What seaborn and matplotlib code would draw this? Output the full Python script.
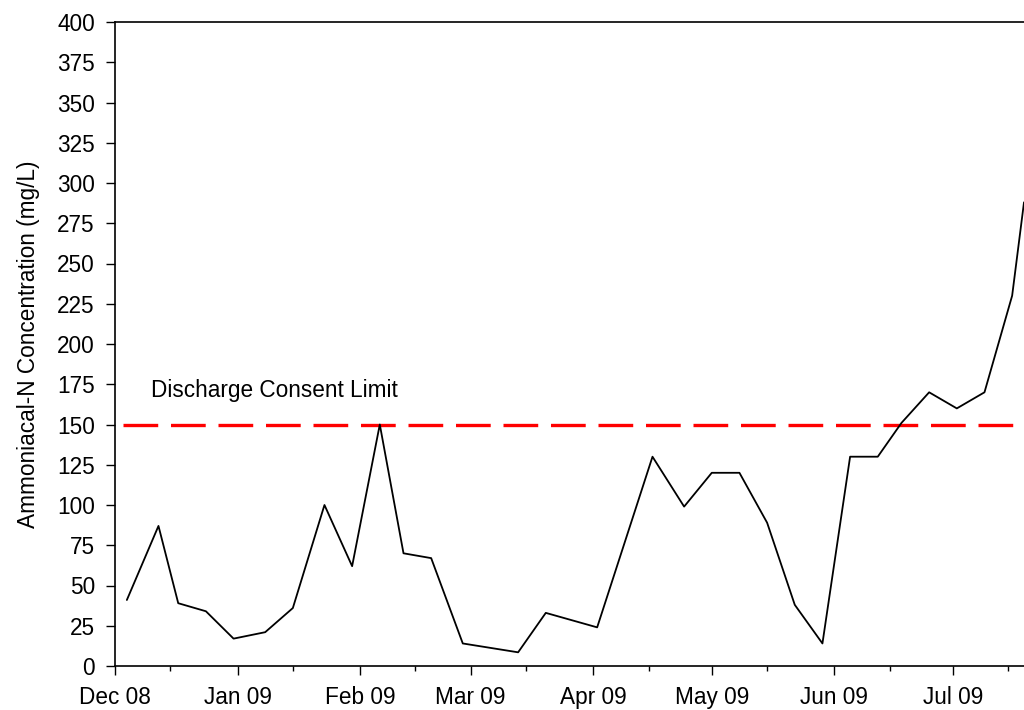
import pandas as pd
import matplotlib
matplotlib.use("Agg")
import matplotlib.pyplot as plt
import matplotlib.dates as mdates
import seaborn as sns

# ========= DATA =========
sample_dates = [
    "2008-12-04", "2008-12-12", "2008-12-17", "2008-12-24", "2008-12-31",
    "2009-01-08", "2009-01-15", "2009-01-23", "2009-01-30", "2009-02-06",
    "2009-02-12", "2009-02-19", "2009-02-27", "2009-03-13", "2009-03-20",
    "2009-04-02", "2009-04-16", "2009-04-24", "2009-05-01", "2009-05-08",
    "2009-05-15", "2009-05-22", "2009-05-29", "2009-06-05", "2009-06-12",
    "2009-06-18", "2009-06-25", "2009-07-02", "2009-07-09", "2009-07-16",
    "2009-07-19",
]
ammonia_mgL = [
    41, 87, 39, 34, 17,
    21, 36, 100, 62, 150,
    70, 67, 14, 8.5, 33,
    24, 130, 99, 120, 120,
    89, 38, 14, 130, 130,
    151, 170, 160, 170, 230,
    288,
]
consent_limit = 150
limit_label = "Discharge Consent Limit"
y_label = "Ammoniacal-N Concentration (mg/L)"

df = pd.DataFrame({"date": pd.to_datetime(sample_dates), "nh4": ammonia_mgL})
limit_df = pd.DataFrame({
    "date": pd.to_datetime(["2008-12-03", "2009-07-25"]),
    "limit": [consent_limit, consent_limit],
})

# ========= STYLE =========
sns.set_style("ticks")
plt.rcParams["font.family"] = ["Liberation Sans", "DejaVu Sans"]
plt.rcParams["lines.scale_dashes"] = False
for key in ["text.color", "axes.labelcolor", "xtick.color", "ytick.color",
            "axes.edgecolor"]:
    plt.rcParams[key] = "black"

FS = 16.3

fig = plt.figure(figsize=(10.24, 7.1), dpi=100)
ax = fig.add_axes([115 / 1024, 44 / 710, (1024 - 115) / 1024, (688 - 44) / 710])

sns.lineplot(data=limit_df, x="date", y="limit", ax=ax, color="#ff0000",
             linewidth=2.4, dashes=False)
ax.lines[-1].set_dashes((25, 9.2))
sns.lineplot(data=df, x="date", y="nh4", ax=ax, color="black", linewidth=1.3)

ax.text(pd.Timestamp("2008-12-10"), 171, limit_label, fontsize=FS,
        va="center", ha="left", color="black")

ax.set_xlim(pd.Timestamp("2008-12-01"), pd.Timestamp("2009-07-19"))
ax.set_ylim(0, 400)
ax.set_yticks(range(0, 401, 25))
ax.xaxis.set_major_locator(mdates.MonthLocator())
ax.xaxis.set_minor_locator(mdates.MonthLocator(bymonthday=15))
ax.xaxis.set_major_formatter(mdates.DateFormatter("%b %y"))

ax.set_xlabel("")
ax.set_ylabel(y_label, fontsize=FS, labelpad=12)
ax.tick_params(axis="both", which="major", direction="out", length=6.5,
               width=1.0, labelsize=FS, color="black", labelcolor="black")
ax.tick_params(axis="x", which="major", pad=8)
ax.tick_params(axis="y", which="major", pad=8)
ax.tick_params(axis="x", which="minor", direction="out", length=3.5, width=1.0)

for side in ["left", "bottom", "top"]:
    ax.spines[side].set_linewidth(1.2)
    ax.spines[side].set_color("black")
ax.spines["right"].set_visible(False)

fig.savefig("out.png", dpi=100)
